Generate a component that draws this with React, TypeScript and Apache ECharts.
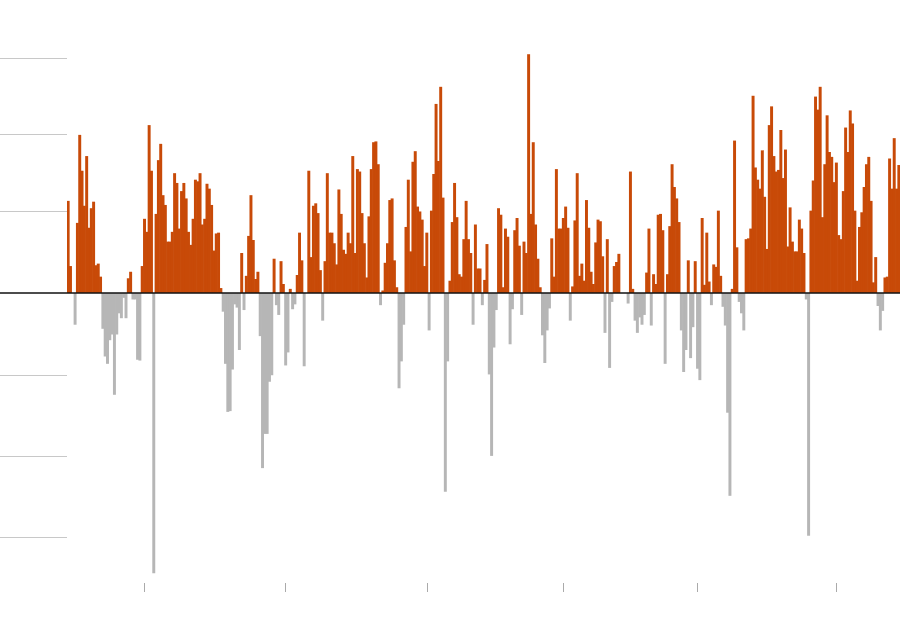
import React, { useEffect, useRef } from "react";
import * as echarts from "echarts";

// Bar values (one bar per period), unit = one gridline step
const SEG_1 = [
  1.13, 0.33, 0, -0.39, 0.86, 1.94, 1.5, 1.07, 1.68, 0.8,
  1.04, 1.12, 0.34, 0.36, 0.2, -0.44, -0.78, -0.87, -0.58, -0.51,
  -1.25, -0.51, -0.25, -0.31, -0.06, -0.31, 0.18, 0.26, -0.08, -0.08,
  -0.82, -0.83, 0.33, 0.91, 0.75, 2.06, 1.5, -3.44, 0.97, 1.63,
  1.83, 1.2, 1.08, 0.63, 0.63, 0.75, 1.47, 1.35, 0.79, 1.25,
  1.35, 1.16, 0.75, 0.59, 0.91, 1.39, 1.37, 1.47, 0.84, 0.91,
];
const SEG_2 = [
  1.34, 1.28, 1.08, 0.52, 0.73, 0.74, 0.06, -0.23, -0.87, -1.46,
  -1.45, -0.94, -0.14, -0.18, -0.7, 0.49, -0.21, 0.21, 0.7, 1.2,
  0.65, 0.17, 0.26, -0.53, -2.15, -1.73, -1.73, -1.09, -1.01, 0.42,
  -0.15, -0.27, 0.39, 0.11, -0.89, -0.73, 0.05, -0.2, -0.14, 0.22,
  0.74, 0.4, -0.9, 0, 1.5, 0.44, 1.07, 1.1, 0.98, 0.28,
  -0.34, 0.39, 1.47, 0.74, 0.74, 0.61, 0.35, 1.27, 0.97, 0.53,
  0.48, 0.74, 0.61,
];
const SEG_3 = [
  1.68, 0.49, 1.52, 1.49, 0.98, 0.61, 0.19, 0.94, 1.52, 1.85,
  1.86, 1.58, -0.15, 0.03, 0.37, 0.61, 1.14, 1.16, 0.4, 0.07,
  -1.17, -0.84, -0.39, 0.81, 1.39, 0.51, 1.61, 1.74, 1.06, 1.0,
  0.9, 0.33, 0.74, -0.46, 1.01, 1.46, 2.32, 1.62, 2.53, 1.17,
  -2.44, -0.84, 0.15, 0.87, 1.35, 0.93, 0.23, 0.2, 0.66, 1.13,
  0.66, 0.49, -0.39, 0.84, 0.3, 0.3, -0.15, 0.16, 0.6,
];
const SEG_4 = [
  -1.0, -2.0, -0.67, -0.21, 1.04, 0.96, 0.07, 0.79, 0.69, -0.63,
  -0.2, 0.77, 0.92, 0.58, -0.27, 0.63, 0.49, 2.93, 0.97, 1.85,
  0.84, 0.42, 0.07, -0.52, -0.86, -0.46, -0.19, 0.67, 0.2, 1.52,
  0.79, 0.79, 0.92, 1.06, 0.8, -0.34, 0.08, 0.89, 1.47, 0.21,
  0.36, 0.15, 1.14, 0.8, 0.26, 0.11, 0.62, 0.9, 0.88, 0.45,
  -0.49, 0.66, -0.92, -0.11, 0.33, 0.38, 0.48, 0, 0, 0,
];
const SEG_5 = [
  -0.13, 1.49, 0.05, -0.34, -0.49, -0.3, -0.39, -0.27, 0.25, 0.79,
  -0.4, 0.23, 0.11, 0.96, 0.97, 0.77, -0.87, 0.23, 0.82, 1.58,
  1.3, 1.16, 0.87, -0.46, -0.97, -0.7, 0.4, -0.8, -0.42, 0.39,
  -0.93, -1.07, 0.92, 0.1, 0.74, 0.14, -0.15, 0.35, 0.32, 1.01,
  0.21, -0.17, -0.4, -1.47, -2.49, 0.05, 1.87, 0.56, -0.11, -0.25,
  -0.46, 0.66, 0.67, 0.79, 2.42, 1.54, 1.39, 1.28, 1.75,
];
const SEG_6 = [
  1.18, 0.54, 2.06, 2.29, 1.68, 1.49, 1.51, 2.0, 1.41, 1.76,
  0.57, 1.05, 0.63, 0.51, 0.51, 0.9, 0.79, 0.49, -0.08, -2.98,
  1.01, 1.38, 2.41, 2.25, 2.53, 0.93, 1.58, 2.18, 1.73, 1.67,
  1.36, 1.6, 0.71, 0.66, 1.25, 2.03, 1.73, 2.24, 2.08, 1.01,
  0.15, 0.81, 0.99, 1.3, 1.58, 1.67, 1.13, 0.13, 0.44, -0.16,
  -0.46, -0.22, 0.19, 0.2, 1.65, 1.28, 1.9, 1.28, 1.57,
];

const VALUES = [...SEG_1, ...SEG_2, ...SEG_3, ...SEG_4, ...SEG_5, ...SEG_6];
const CATEGORIES = VALUES.map((_, i) => String(i + 1));

// x-axis tick marks (category indices) and y-axis gridline ticks
const X_TICK_INDEX = [33, 94, 155, 214, 272, 332];
const Y_TICKS = [-3, -2, -1.01, 1, 1.95, 2.88];
const Y_MIN = -3.56;
const Y_MAX = 3.35;

const ORANGE = "#c84a08";
const GRAY = "#b6b6b6";

export default function App() {
  const ref = useRef<HTMLDivElement>(null);

  useEffect(() => {
    const chart = echarts.init(ref.current as HTMLDivElement, null, { renderer: "svg" });
    const barData = VALUES.map((v) => ({
      value: v,
      itemStyle: { color: v >= 0 ? ORANGE : GRAY },
    }));
    chart.setOption({
      animation: false,
      backgroundColor: "#ffffff",
      grid: { left: 67, right: 0, top: 20, bottom: 36, containLabel: false },
      xAxis: [
        {
          type: "category",
          data: CATEGORIES,
          boundaryGap: true,
          axisLine: { show: false, onZero: false },
          axisTick: {
            show: true,
            alignWithLabel: true,
            length: 9,
            interval: (i: number) => X_TICK_INDEX.includes(i),
            lineStyle: { color: "#aaaaaa", width: 1 },
          },
          axisLabel: { show: false },
          splitLine: { show: false },
        },
      ],
      yAxis: [
        {
          type: "value",
          min: Y_MIN,
          max: Y_MAX,
          position: "left",
          axisLine: { show: false },
          axisTick: {
            show: true,
            customValues: Y_TICKS,
            length: 67,
            lineStyle: { color: "#c8c8c8", width: 1 },
          },
          axisLabel: { show: false },
          splitLine: { show: false },
        },
        {
          type: "value",
          min: Y_MIN,
          max: Y_MAX,
          position: "left",
          axisLine: { show: false },
          axisTick: {
            show: true,
            customValues: [0],
            length: 67,
            lineStyle: { color: "#111111", width: 1.5 },
          },
          axisLabel: { show: false },
          splitLine: { show: false },
        },
      ],
      series: [
        {
          type: "bar",
          data: barData,
          barWidth: "128%",
          barGap: "-100%",
          markLine: {
            silent: true,
            symbol: "none",
            label: { show: false },
            lineStyle: { color: "#111111", width: 1.5, type: "solid" },
            data: [{ yAxis: 0 }],
          },
        },
      ],
    });
    return () => chart.dispose();
  }, []);

  return (
    <div
      ref={ref}
      style={{ position: "fixed", left: 0, top: 0, width: 900, height: 619, background: "#fff" }}
    />
  );
}
